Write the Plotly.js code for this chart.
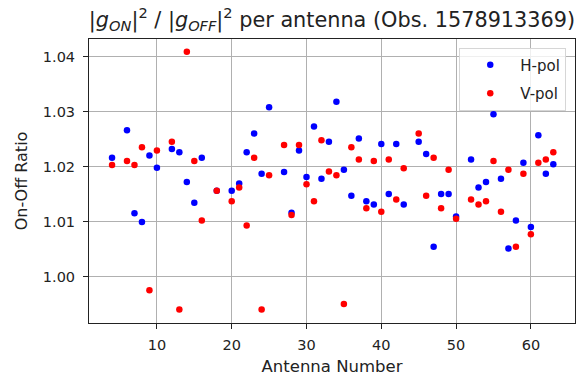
<!DOCTYPE html>
<html>
<head>
<meta charset="utf-8">
<script src="https://cdn.plot.ly/plotly-3.0.1.min.js"></script>
<style>html,body{margin:0;padding:0;background:#fff;}#chart{width:577px;height:376px;}</style>
</head>
<body>
<div id="chart"></div>
<script>
const hAnt = [4,6,7,8,9,10,12,13,14,15,16,18,20,21,22,23,24,25,27,28,29,30,31,32,33,34,35,36,37,38,39,40,41,42,43,45,46,47,48,49,50,52,53,54,55,56,57,58,59,60,61,62,63];
const hVal = [1.0216,1.0266,1.0115,1.0099,1.0220,1.0198,1.0232,1.0226,1.0172,1.0134,1.0216,1.0156,1.0156,1.0169,1.0226,1.0260,1.0187,1.0308,1.0190,1.0116,1.0229,1.0181,1.0273,1.0178,1.0245,1.0318,1.0194,1.0147,1.0251,1.0137,1.0131,1.0241,1.0150,1.0241,1.0131,1.0245,1.0223,1.0054,1.0150,1.0150,1.0109,1.0213,1.0162,1.0172,1.0295,1.0178,1.0051,1.0102,1.0207,1.0090,1.0257,1.0187,1.0204];
const vAnt = [4,6,7,8,9,10,12,13,14,15,16,18,20,21,22,23,24,25,27,28,29,30,31,32,33,34,35,36,37,38,39,40,41,42,43,45,46,47,48,49,50,52,53,54,55,56,57,58,59,60,61,62,63];
const vVal = [1.0203,1.0210,1.0203,1.0235,0.9975,1.0229,1.0245,0.9940,1.0409,1.0210,1.0102,1.0156,1.0137,1.0162,1.0093,1.0216,0.9940,1.0184,1.0239,1.0112,1.0239,1.0168,1.0137,1.0248,1.0191,1.0184,0.9950,1.0235,1.0213,1.0124,1.0210,1.0118,1.0213,1.0140,1.0197,1.0260,1.0147,1.0216,1.0124,1.0194,1.0105,1.0140,1.0131,1.0137,1.0210,1.0118,1.0194,1.0054,1.0187,1.0077,1.0207,1.0213,1.0226];
const yTicks = [1.00,1.01,1.02,1.03,1.04];
const xTicks = [10,20,30,40,50,60];

const font = 'DejaVu Sans, sans-serif';
const traces = [
  {x: hAnt, y: hVal, name: 'H-pol', mode: 'markers', type: 'scatter', legendgroup: 'h',
   marker: {color: '#0000ff', size: 6.5}},
  {x: vAnt, y: vVal, name: 'V-pol', mode: 'markers', type: 'scatter', legendgroup: 'v',
   marker: {color: '#ff0000', size: 6.5}}
];
const axisCommon = {
  showline: true, mirror: true, linecolor: '#222', linewidth: 1,
  showgrid: true, gridcolor: '#b0b0b0', gridwidth: 1,
  ticks: 'outside', ticklen: 5, tickcolor: '#222',
  zeroline: false, tickfont: {family: font, size: 14.5, color: '#222'}
};
const layout = {
  width: 577, height: 376,
  margin: {l: 89, r: 2, t: 39, b: 53},
  paper_bgcolor: '#fff', plot_bgcolor: '#fff',
  font: {family: font, color: '#222'},
  title: {text: '|<i>g<sub>ON</sub></i>|<sup>2</sup> / |<i>g<sub>OFF</sub></i>|<sup>2</sup> per antenna (Obs. 1578913369)',
          font: {family: font, size: 20.8, color: '#222'},
          x: 0.5, xref: 'paper', xanchor: 'center', y: 0.948, yanchor: 'middle'},
  xaxis: Object.assign({}, axisCommon, {
    range: [0.92, 65.9], tickvals: xTicks, ticktext: xTicks.map(String), ticklabelstandoff: 4,
    title: {text: 'Antenna Number', font: {family: font, size: 16.5, color: '#222'}, standoff: 8}
  }),
  yaxis: Object.assign({}, axisCommon, {
    range: [0.99155, 1.0432], tickvals: yTicks, ticktext: yTicks.map(v => v.toFixed(2)), ticklabelstandoff: 5,
    title: {text: 'On-Off Ratio', font: {family: font, size: 16, color: '#222'}, standoff: 11}
  }),
  showlegend: true,
  legend: {x: 0.982, y: 0.97, xanchor: 'right', yanchor: 'top', itemwidth: 50, tracegroupgap: 6,
           bgcolor: 'rgba(255,255,255,0.8)', bordercolor: '#d6d6d6', borderwidth: 1,
           font: {family: font, size: 15, color: '#222'}}
};
Plotly.newPlot('chart', traces, layout, {displayModeBar: false, staticPlot: true});
</script>
</body>
</html>
